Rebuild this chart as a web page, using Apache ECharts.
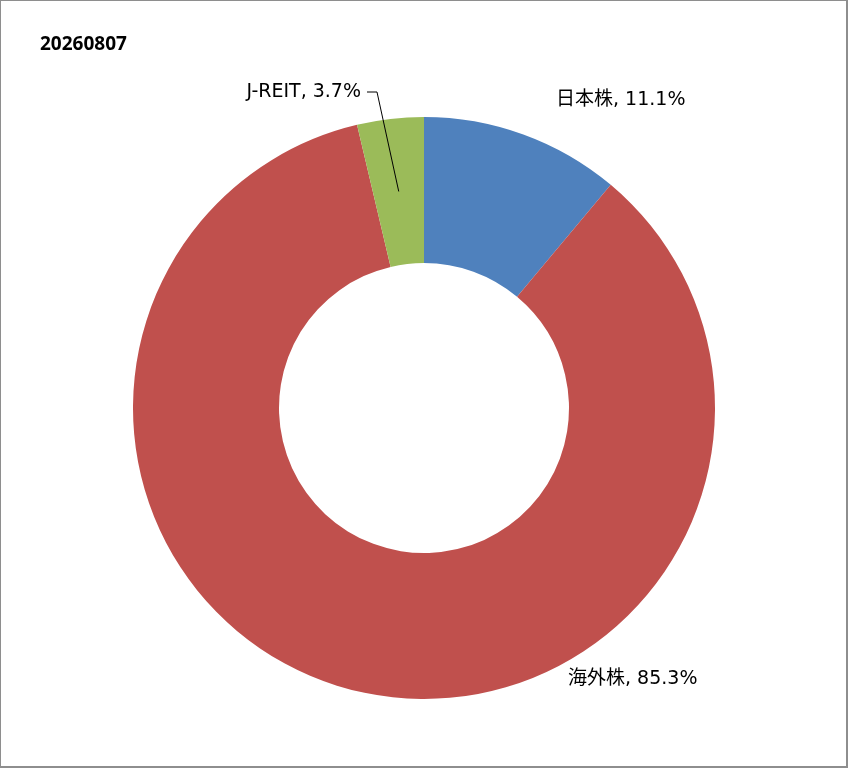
<!DOCTYPE html>
<html>
<head>
<meta charset="utf-8">
<script src="https://cdn.jsdelivr.net/npm/echarts@6/dist/echarts.min.js"></script>
<style>
  html, body { margin: 0; padding: 0; background: #fff; }
  #frame { position: absolute; left: 0; top: 0; width: 848px; height: 768px; box-sizing: border-box; border: 1px solid #8e8e8e; border-right-width: 2px; border-bottom-width: 2px; }
  #chart { position: absolute; left: 0; top: 0; width: 849px; height: 769px; }
</style>
</head>
<body>
<div id="frame"></div>
<div id="chart"></div>
<script>
const title = '20260807';
const categories = ['日本株', '海外株', 'J-REIT'];
const values = [11.1, 85.3, 3.7];
const colors = ['#4F81BD', '#C0504D', '#9BBB59'];

const CX = 424, CY = 408, R_IN = 145, R_OUT = 291;
const total = values.reduce((a, b) => a + b, 0);

// label anchor positions (text placement, not data marks)
const labelPos = [
  { x: 556, y: 100, align: 'left' },
  { x: 568, y: 679, align: 'left' },
  { x: 361, y: 92, align: 'right' }
];

function midPoint(idx, r) {
  let before = 0;
  for (let i = 0; i < idx; i++) before += values[i];
  const frac = (before + values[idx] / 2) / total;
  const ang = frac * 2 * Math.PI;
  return [CX + r * Math.sin(ang), CY - r * Math.cos(ang)];
}

const chart = echarts.init(document.getElementById('chart'), null, { renderer: 'canvas' });
const fontFamily = '"DejaVu Sans", "Noto Sans CJK JP", sans-serif';

const jp = labelPos[2];
const jpMid = midPoint(2, (R_IN + R_OUT) / 2);

chart.setOption({
  animation: false,
  title: {
    text: title,
    left: 35,
    top: 30,
    textStyle: { fontFamily: '"Noto Sans", sans-serif', fontSize: 19, fontWeight: 'bold', color: '#000' }
  },
  graphic: [{
    type: 'polyline',
    z: 100,
    shape: { points: [[jp.x + 6, jp.y], [jp.x + 16, jp.y], jpMid] },
    style: { stroke: '#000', lineWidth: 1, fill: null }
  }],
  series: [{
    type: 'pie',
    center: [CX, CY],
    radius: [R_IN, R_OUT],
    startAngle: 90,
    clockwise: true,
    avoidLabelOverlap: false,
    label: {
      show: true,
      position: 'outside',
      formatter: p => p.name + ', ' + p.value.toFixed(1) + '%',
      fontFamily: fontFamily,
      fontSize: 19,
      color: '#000'
    },
    labelLine: { show: false },
    labelLayout: function (params) {
      const lp = labelPos[params.dataIndex];
      return { x: lp.x, y: lp.y, align: lp.align, verticalAlign: 'middle' };
    },
    data: categories.map((c, i) => ({
      name: c,
      value: values[i],
      itemStyle: { color: colors[i] }
    }))
  }]
});
</script>
</body>
</html>
